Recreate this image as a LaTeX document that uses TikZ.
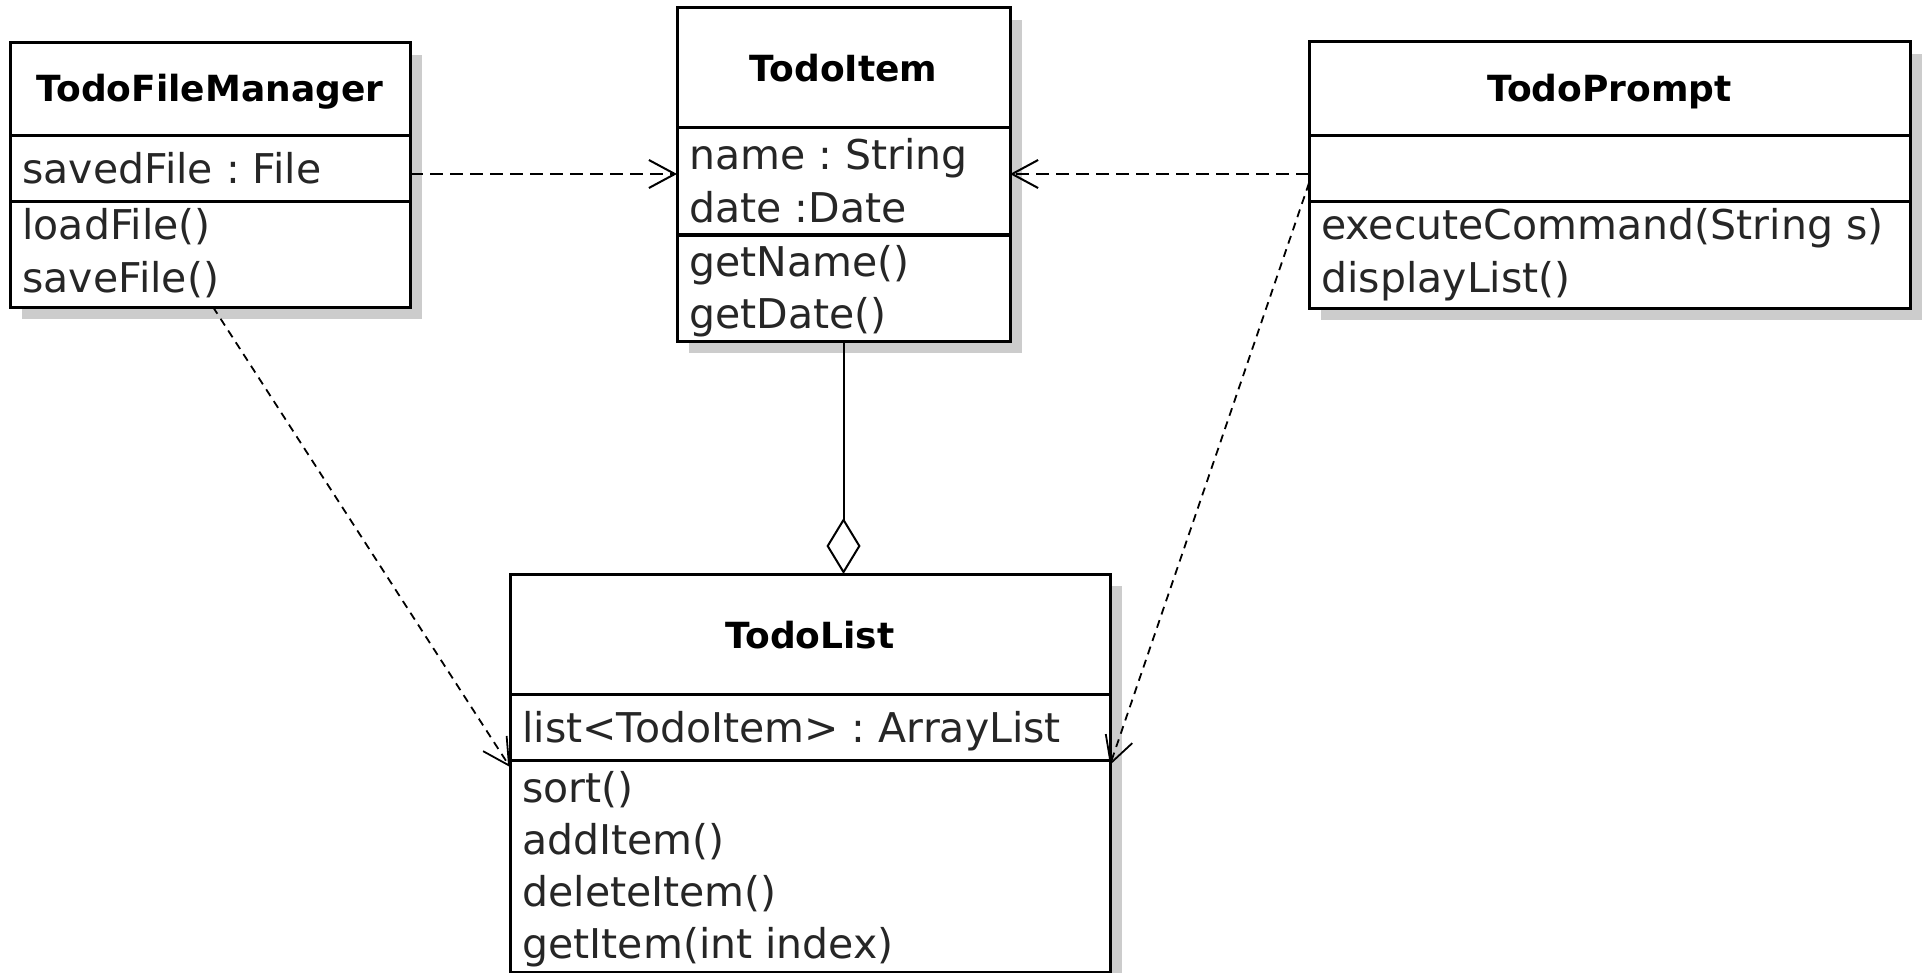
\documentclass[tikz,border=0pt]{standalone}
\usepackage{fontspec}
\setmainfont{DejaVu Sans}
\usetikzlibrary{arrows.meta,shadows}

% Class diagram of the todo application: four classes and their relations.
\newfontfamily\umlfont{DejaVu Sans}
\newcommand{\titlefont}{\umlfont\bfseries\fontsize{18pt}{22pt}\selectfont}
\newcommand{\memberfont}{\umlfont\fontsize{20.5pt}{26pt}\selectfont}
\frenchspacing

\tikzset{
  classbox/.style={draw=black, line width=1.5pt, fill=white, inner sep=0pt,
    outer sep=0pt, anchor=north west,
    drop shadow={shadow xshift=6pt, shadow yshift=-6pt, fill=black!20, opacity=1}},
  divider/.style={draw=black, line width=1.5pt},
  classtitle/.style={font=\titlefont, anchor=base, inner sep=0pt, text=black},
  member/.style={font=\memberfont, anchor=base west, inner sep=0pt, text=black!85},
  dependency/.style={draw=black, line width=1pt, dash pattern=on 6.5pt off 3.5pt,
    -{Straight Barb[length=13pt, width=14pt]}},
  usage/.style={draw=black, line width=0.9pt, dash pattern=on 4pt off 3pt,
    -{Straight Barb[length=13pt, width=14pt]}},
  aggregation/.style={draw=black, line width=1pt,
    -{Diamond[open, length=28pt, width=17pt]}},
}

\begin{document}
\begin{tikzpicture}[x=0.5pt, y=-0.5pt]
\useasboundingbox (0,0) rectangle (1925,973);

% ---- TodoFileManager ----
\node[classbox, minimum width=200pt, minimum height=132pt] (tfm) at (10,43) {};
\draw[divider] (tfm.west |- 0,136) -- (tfm.east |- 0,136);
\draw[divider] (tfm.west |- 0,202) -- (tfm.east |- 0,202);
\node[classtitle] (tfm-name) at (210,102) {TodoFileManager};
\node[member] (tfm-a1) at (22,184) {savedFile : File};
\node[member] (tfm-m1) at (22,240) {loadFile()};
\node[member] (tfm-m2) at (22,292) {saveFile()};

% ---- TodoItem ----
\node[classbox, minimum width=166.5pt, minimum height=166.5pt] (item) at (677,8) {};
\draw[divider] (item.west |- 0,128) -- (item.east |- 0,128);
\draw[divider] (item.west |- 0,235) -- (item.east |- 0,235);
\node[classtitle] (item-name) at (843.5,82) {TodoItem};
\node[member] (item-a1) at (689,170) {name : String};
\node[member] (item-a2) at (689,222) {date :Date};
\node[member] (item-m1) at (689,276) {getName()};
\node[member] (item-m2) at (689,328) {getDate()};

% ---- TodoPrompt ----
\node[classbox, minimum width=300.5pt, minimum height=133pt] (prompt) at (1309,42) {};
\draw[divider] (prompt.west |- 0,136) -- (prompt.east |- 0,136);
\draw[divider] (prompt.west |- 0,202) -- (prompt.east |- 0,202);
\node[classtitle] (prompt-name) at (1609.5,102) {TodoPrompt};
\node[member] (prompt-m1) at (1321,240) {executeCommand(String s)};
\node[member] (prompt-m2) at (1321,292) {displayList()};

% ---- TodoList ----
\node[classbox, minimum width=300pt, minimum height=199pt] (list) at (510,574) {};
\draw[divider] (list.west |- 0,694) -- (list.east |- 0,694);
\draw[divider] (list.west |- 0,760) -- (list.east |- 0,760);
\node[classtitle] (list-name) at (810,648) {TodoList};
\node[member] (list-a1) at (522,742) {list<TodoItem> : ArrayList};
\node[member] (list-m1) at (522,802) {sort()};
\node[member] (list-m2) at (522,854) {addItem()};
\node[member] (list-m3) at (522,906) {deleteItem()};
\node[member] (list-m4) at (522,958) {getItem(int index)};

% ---- relations ----
\draw[dependency] (tfm.east |- 0,174) -- (item.west |- 0,174);
\draw[dependency] (prompt.west |- 0,174) -- (item.east |- 0,174);
\draw[usage] (tfm.south -| 213,0) -- (list.west |- 0,767);
\draw[usage] (prompt.west |- 0,183) -- (list.east |- 0,765);
\draw[aggregation] (item.south) -- (item.south |- list.north);

\end{tikzpicture}
\end{document}
